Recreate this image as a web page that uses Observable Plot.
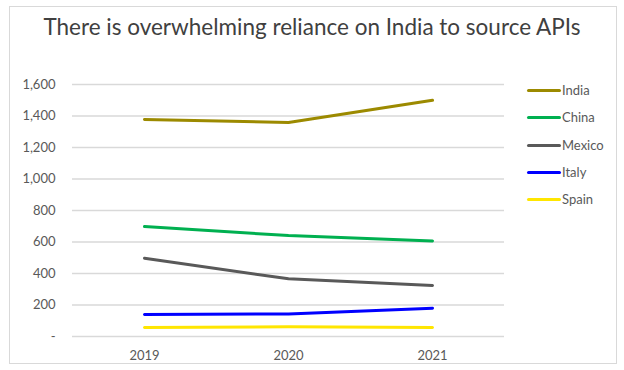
<!DOCTYPE html>
<html><head><meta charset="utf-8">
<script src="https://cdn.jsdelivr.net/npm/d3@7"></script>
<script src="https://cdn.jsdelivr.net/npm/@observablehq/plot@0.6"></script>
<style>
html,body{margin:0;padding:0;background:#fff;}
#wrap{position:relative;width:624px;height:370px;overflow:hidden;}
#frame{position:absolute;left:9px;top:6px;width:608px;height:358px;border:1px solid #d9d9d9;box-sizing:border-box;}
#title{position:absolute;left:0;top:13px;width:624px;text-align:center;font-family:Lato,"Open Sans",sans-serif;font-size:22.5px;color:#404040;}
#chart{position:absolute;left:0;top:0;}
#legend{position:absolute;left:527px;top:82px;font-family:Lato,sans-serif;font-size:13px;color:#595959;}
.li{position:absolute;left:0;height:16px;white-space:nowrap;}
.sw{position:absolute;left:0;top:7px;width:34px;height:3px;border-radius:2px;}
.lt{position:absolute;left:35px;top:0;}
</style></head>
<body><div id="wrap"><div id="frame"></div><div id="chart"></div><div id="title"></div><div id="legend"></div></div>
<script>
const title = "There is overwhelming reliance on India to source APIs";
const years = ["2019","2020","2021"];
const countries = ["India","China","Mexico","Italy","Spain"];
const colors = ["#9C8A00","#00B050","#595959","#0000FF","#FFE600"];
const india = [1378, 1359, 1500];
const china = [698, 641, 607];
const mexico = [497, 366, 324];
const italy = [140, 143, 180];
const spain = [57, 62, 57];
const yTicks = [0,200,400,600,800,1000,1200,1400,1600];

const seriesValues = [india, china, mexico, italy, spain];
const data = [];
countries.forEach((c,i)=>years.forEach((y,j)=>data.push({country:c, year:y, value:seriesValues[i][j]})));

const fmt = d => d === 0 ? "-" : d3.format(",")(d);

const plot = Plot.plot({
  width: 624, height: 370,
  marginTop: 84, marginBottom: 34, marginLeft: 72, marginRight: 120,
  style: {fontFamily: "Lato, sans-serif", fontSize: "13px", color: "#595959", background: "transparent"},
  x: {type: "point", domain: years, padding: 0.5, label: null},
  y: {domain: [0,1600], label: null},
  color: {domain: countries, range: colors},
  marks: [
    Plot.ruleY(yTicks, {stroke: "#d9d9d9", strokeWidth: 1.3}),
    Plot.axisY({ticks: yTicks, tickSize: 0, tickPadding: 17, tickFormat: fmt, label: null}),
    Plot.axisX({tickSize: 0, tickPadding: 14, label: null}),
    Plot.line(data, {x: "year", y: "value", z: "country", stroke: "country", strokeWidth: 3, strokeLinecap: "round", strokeLinejoin: "round"})
  ]
});
document.getElementById("chart").appendChild(plot);
document.getElementById("title").textContent = title;

const leg = document.getElementById("legend");
countries.forEach((c,i)=>{
  const d = document.createElement("div");
  d.className = "li";
  d.style.top = (i*27.3) + "px";
  d.innerHTML = `<div class="sw" style="background:${colors[i]}"></div><div class="lt">${c}</div>`;
  leg.appendChild(d);
});
</script></body></html>
